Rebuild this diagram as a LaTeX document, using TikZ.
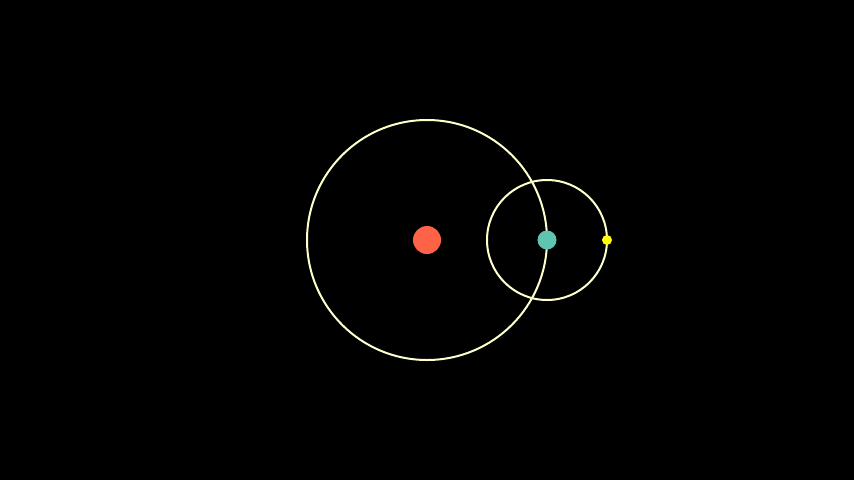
\documentclass[tikz,border=0pt]{standalone}
\definecolor{orbit}{HTML}{FFFFCC}
\definecolor{sun}{HTML}{FF6347}
\definecolor{planet}{HTML}{5FC4B0}
\definecolor{moon}{HTML}{FFFF00}
\begin{document}
\begin{tikzpicture}[x=1pt,y=-1pt,
  orbitline/.style={draw=orbit,line width=2pt},
  body/.style={circle,inner sep=0pt,minimum size=#1,draw=none}]
\fill[black] (0,0) rectangle (854,480);
\useasboundingbox (0,0) rectangle (854,480);
\draw[orbitline] (427,240) circle[radius=120];
\draw[orbitline] (547,240) circle[radius=60];
\node[body=28pt,fill=sun] (s) at (427,240) {};
\node[body=19pt,fill=planet] (p) at (547,240) {};
\node[body=10pt,fill=moon] (m) at (607,240) {};
\end{tikzpicture}
\end{document}
